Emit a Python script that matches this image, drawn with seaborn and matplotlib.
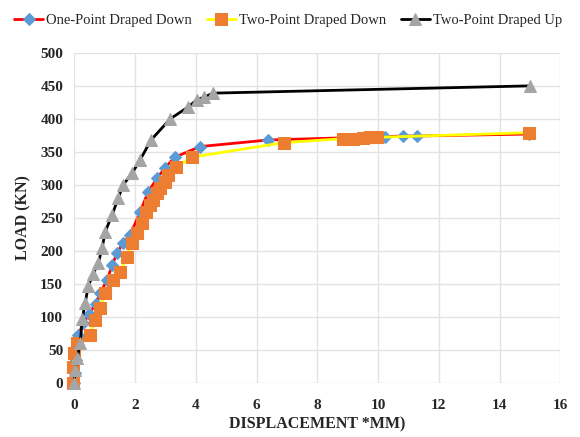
import matplotlib
matplotlib.use("Agg")
import matplotlib.pyplot as plt
import seaborn as sns

# one-point draped down (red line, blue diamonds)
one_x = [0, 0.02, 0.06, 0.13, 0.3, 0.5, 0.7, 0.86, 1.08, 1.25, 1.41, 1.61, 1.84, 2.17,
         2.43, 2.73, 2.99, 3.32, 4.14, 6.38, 10.23, 10.82, 11.28, 14.97]
one_y = [0, 15, 35, 73, 90, 105, 120, 136, 156, 178, 197, 212, 224, 259,
         289, 310, 326, 342, 358, 368, 373, 374, 374, 377]

# two-point draped down (yellow line, orange squares)
two_x = [-0.05, -0.03, 0, 0.1, 0.53, 0.69, 0.86, 1.02, 1.28, 1.51, 1.74, 1.91, 2.07,
         2.24, 2.37, 2.5, 2.6, 2.73, 2.83, 2.99, 3.09, 3.36, 3.88, 6.9, 8.85, 9.18,
         9.5, 9.74, 9.97, 14.97]
two_y = [0, 24, 45, 61, 73, 95, 114, 136, 156, 168, 191, 212, 227,
         242, 259, 270, 277, 288, 295, 305, 315, 327, 342, 364, 370, 370,
         371, 372, 372, 379]

# two-point draped up (black line, grey triangles)
up_x = [0, 0.03, 0.1, 0.2, 0.26, 0.36, 0.46, 0.62, 0.79, 0.92, 1.02, 1.25, 1.45, 1.61,
        1.91, 2.17, 2.53, 3.16, 3.75, 4.04, 4.28, 4.57, 15]
up_y = [0, 20, 38, 61, 96, 121, 146, 165, 181, 205, 229, 255, 280, 300,
        318, 338, 368, 400, 418, 429, 433, 439, 450]

sns.set_theme(style="whitegrid")
plt.rcParams["font.family"] = ["Liberation Serif", "DejaVu Serif"]

fig = plt.figure(figsize=(5.8, 4.37), dpi=100)
ax = fig.add_axes([0.128, 0.124, 0.838, 0.755])

common = dict(ax=ax, estimator=None, sort=False, linewidth=2, clip_on=False)
sns.lineplot(x=one_x, y=one_y, color="#FF0000", marker="D", markersize=6.5,
             markerfacecolor="#5B9BD5", markeredgecolor="#5B9BD5",
             label="One-Point Draped Down", **common)
sns.lineplot(x=two_x, y=two_y, color="#FFFF00", marker="s", markersize=8,
             markerfacecolor="#ED7D31", markeredgecolor="#ED7D31",
             label="Two-Point Draped Down", **common)
sns.lineplot(x=up_x, y=up_y, color="#000000", marker="^", markersize=8.5,
             markerfacecolor="#A5A5A5", markeredgecolor="#A5A5A5",
             label="Two-Point Draped Up", **common)

ax.set_xlim(0, 16)
ax.set_ylim(0, 500)
ax.set_xticks(range(0, 17, 2))
ax.set_yticks(range(0, 501, 50))
ax.margins(0)
ax.grid(True, color="#E3E3E3", linewidth=1)
for s in ax.spines.values():
    s.set_visible(False)
ax.tick_params(axis="y", length=0, labelsize=11, pad=8)
ax.tick_params(axis="x", length=0, labelsize=11, pad=12)
for lab in ax.get_xticklabels() + ax.get_yticklabels():
    lab.set_fontweight("bold")

ax.set_xlabel("DISPLACEMENT *MM)", fontsize=11.5, fontweight="bold", labelpad=3)
ax.set_ylabel("LOAD (KN)", fontsize=11.5, fontweight="bold", labelpad=6)

ax.legend(loc="lower center", bbox_to_anchor=(0.44, 1.06), ncol=3, frameon=False,
          fontsize=10.5, handlelength=2.0, handletextpad=0.2, columnspacing=1.0,
          borderaxespad=0)

fig.savefig("out.png", dpi=100)
